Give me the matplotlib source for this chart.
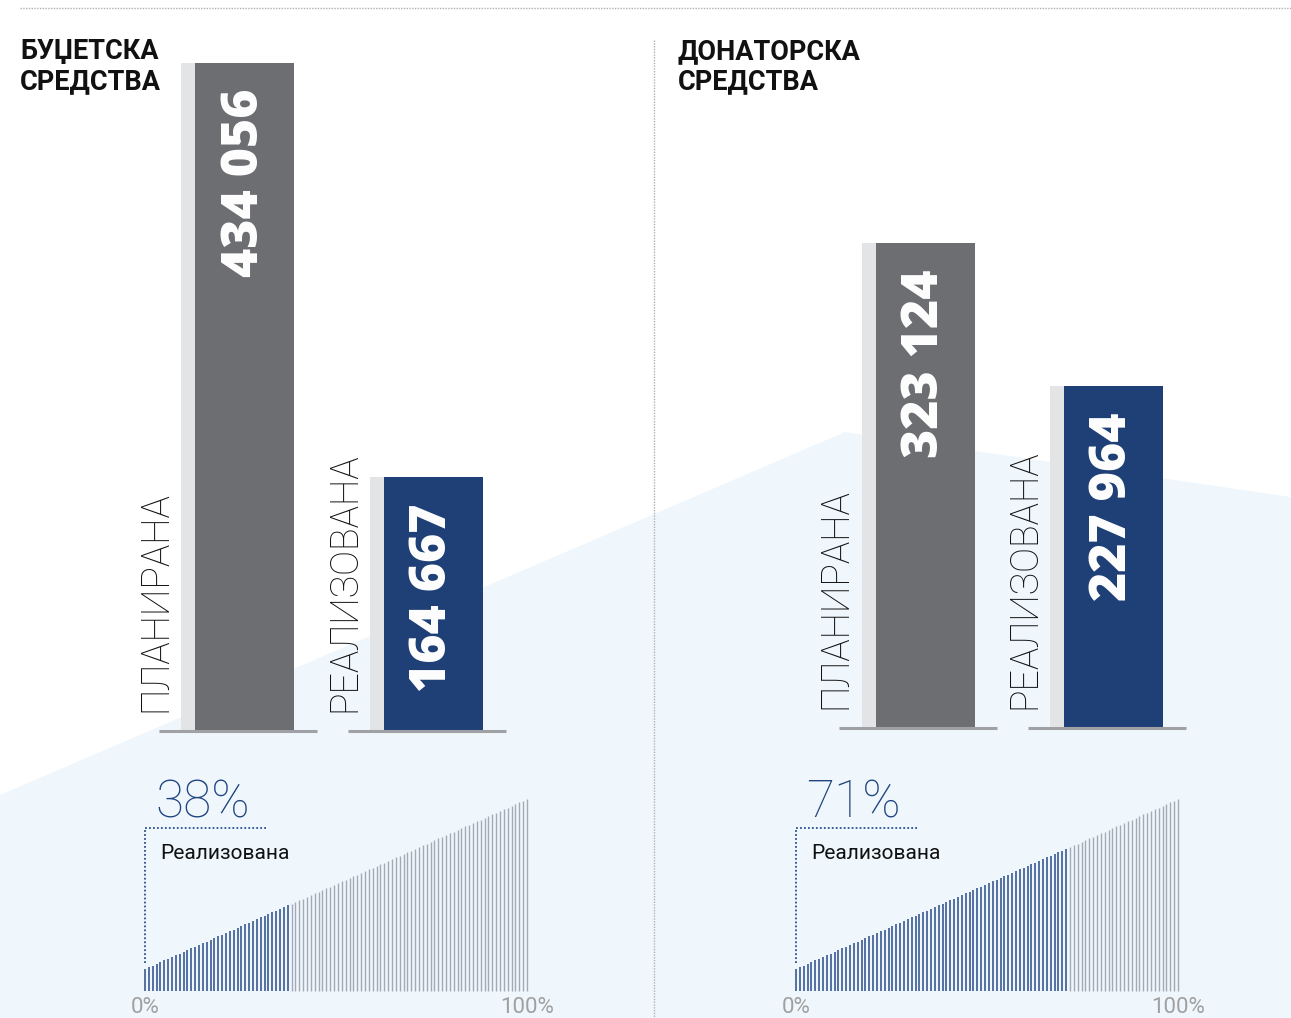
import numpy as np
import matplotlib
matplotlib.use("Agg")
import matplotlib.pyplot as plt

# data
panel_titles = ["БУЏЕТСКА\nСРЕДСТВА", "ДОНАТОРСКА\nСРЕДСТВА"]
categories = ["ПЛАНИРАНА", "РЕАЛИЗОВАНА"]
budget_values = [434056, 164667]
donor_values = [323124, 227964]
realized_pct = [38, 71]
pct_caption = "Реализована"
scale_labels = ["0%", "100%"]

W, H = 1291, 1018
fig = plt.figure(figsize=(W / 100, H / 100), dpi=100)

# background axes in pixel coords
bg = fig.add_axes([0, 0, 1, 1])
bg.set_xlim(0, W)
bg.set_ylim(H, 0)
bg.axis("off")

bg.fill([0, 845, W, W, 0], [795, 432, 497, H, H], color="#eff7fd", lw=0, zorder=0)
bg.plot([20, W], [8, 8], ls=(0, (1, 1)), color="#b0b0b0", lw=1)
bg.plot([654, 654], [40, H], ls=(0, (1, 1)), color="#b0b0b0", lw=1)

def fmt(v):
    return f"{v:,}".replace(",", " ")

def fig_y(px):
    return 1 - px / H

panels = [
    dict(title_x=20, vals=budget_values, centers=[244.5, 433.5], base=731, scale=1.54e-3, ramp_x=145),
    dict(title_x=678, vals=donor_values, centers=[925, 1113.5], base=728, scale=1.50e-3, ramp_x=796),
]
bar_colors = ["#6d6e72", "#1f3f77"]
ymax = 450000

for i, p in enumerate(panels):
    bg.text(p["title_x"], 38, panel_titles[i], family="Roboto", fontweight="bold",
            fontsize=19.5, va="top", ha="left", linespacing=1.15, color="#111111")

    h_px = ymax * p["scale"]
    ax = fig.add_axes([0, fig_y(p["base"]), 1, h_px / H])
    ax.set_xlim(0, W)
    ax.set_ylim(0, ymax)
    ax.axis("off")
    for j, v in enumerate(p["vals"]):
        c = p["centers"][j]
        ax.bar(c - 49.5 - 7, v, width=14, color="#e3e4e6", lw=0)
        ax.bar(c, v, width=99, color=bar_colors[j], lw=0)
        ax.plot([c - 86, c + 72], [0, 0], color="#9fa1a4", lw=2.2, clip_on=False,
                solid_capstyle="butt")
        ax.annotate(fmt(v), (c, v), xytext=(0, -26), textcoords="offset pixels",
                    rotation=90, ha="center", va="top", color="white",
                    family="Open Sans", fontweight="heavy", fontsize=36)
        ax.annotate(categories[j], (c - 70.5, 0), xytext=(0, 19), textcoords="offset pixels",
                    rotation=90, ha="right", va="bottom", color="#111111",
                    family="Roboto", fontweight="light", fontsize=27)

    # percentage gauge
    x0 = p["ramp_x"]
    xs = np.linspace(x0, x0 + 382, 100)
    hs = np.linspace(22, 192, 100)
    done = xs <= x0 + 382 * realized_pct[i] / 100
    bg.vlines(xs[done], 991, 991 - hs[done], color="#284b8a", lw=1.1)
    bg.vlines(xs[~done], 991, 991 - hs[~done], color="#a3aab5", lw=1.0)
    bg.plot([x0, x0, x0 + 121], [963, 828, 828], ls=(0, (1, 1.2)), color="#2b4f8e", lw=1.3)
    bg.text(x0 + 10, 818, f"{realized_pct[i]}%", family="Roboto", fontweight="light",
            fontsize=37, color="#1f4480", ha="left", va="baseline")
    bg.text(x0 + 15, 859, pct_caption, family="Roboto", fontsize=15,
            color="#111111", ha="left", va="baseline")
    bg.text(x0, 997, scale_labels[0], family="Roboto", fontsize=16, color="#a0a0a0",
            ha="center", va="top")
    bg.text(x0 + 382, 997, scale_labels[1], family="Roboto", fontsize=16, color="#a0a0a0",
            ha="center", va="top")

fig.savefig("out.png", dpi=100)
